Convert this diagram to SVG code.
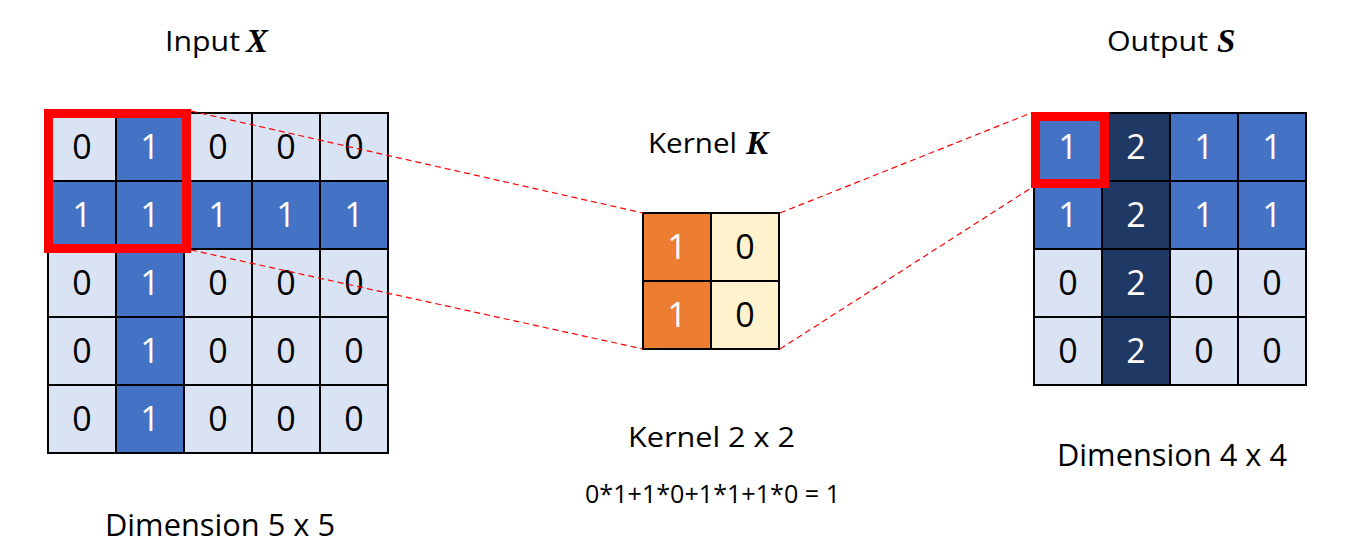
<svg xmlns="http://www.w3.org/2000/svg" width="1348" height="559" viewBox="0 0 1348 559">
<style>
.c{stroke:#000;stroke-width:2}
.l{fill:#DAE3F3}.b{fill:#4472C4}.d{fill:#203864}.o{fill:#ED7D31}.y{fill:#FFF2CC}
.n{font-family:"Open Sans","Noto Sans",sans-serif;font-size:34px;text-anchor:middle}
.k{fill:#000}.w{fill:#fff}
.t{font-family:"Open Sans","Noto Sans",sans-serif;fill:#000}
.m{font-family:"Liberation Serif",serif;font-weight:bold;font-style:italic;fill:#000}
.dash{stroke:#FF0000;stroke-width:1.2;stroke-dasharray:6 4;fill:none}
.red{fill:none;stroke:#FF0000;stroke-width:9}
</style>
<rect width="1348" height="559" fill="#fff"/>
<g id="input">
<g class="c">
<rect class="l" x="48" y="113" width="68" height="68"/><rect class="b" x="116" y="113" width="68" height="68"/><rect class="l" x="184" y="113" width="68" height="68"/><rect class="l" x="252" y="113" width="68" height="68"/><rect class="l" x="320" y="113" width="68" height="68"/>
<rect class="b" x="48" y="181" width="68" height="68"/><rect class="b" x="116" y="181" width="68" height="68"/><rect class="b" x="184" y="181" width="68" height="68"/><rect class="b" x="252" y="181" width="68" height="68"/><rect class="b" x="320" y="181" width="68" height="68"/>
<rect class="l" x="48" y="249" width="68" height="68"/><rect class="b" x="116" y="249" width="68" height="68"/><rect class="l" x="184" y="249" width="68" height="68"/><rect class="l" x="252" y="249" width="68" height="68"/><rect class="l" x="320" y="249" width="68" height="68"/>
<rect class="l" x="48" y="317" width="68" height="68"/><rect class="b" x="116" y="317" width="68" height="68"/><rect class="l" x="184" y="317" width="68" height="68"/><rect class="l" x="252" y="317" width="68" height="68"/><rect class="l" x="320" y="317" width="68" height="68"/>
<rect class="l" x="48" y="385" width="68" height="68"/><rect class="b" x="116" y="385" width="68" height="68"/><rect class="l" x="184" y="385" width="68" height="68"/><rect class="l" x="252" y="385" width="68" height="68"/><rect class="l" x="320" y="385" width="68" height="68"/>
</g>
<g class="n">
<text class="k" x="82" y="159">0</text><text class="w" x="150" y="159">1</text><text class="k" x="218" y="159">0</text><text class="k" x="286" y="159">0</text><text class="k" x="354" y="159">0</text>
<text class="w" x="82" y="227">1</text><text class="w" x="150" y="227">1</text><text class="w" x="218" y="227">1</text><text class="w" x="286" y="227">1</text><text class="w" x="354" y="227">1</text>
<text class="k" x="82" y="295">0</text><text class="w" x="150" y="295">1</text><text class="k" x="218" y="295">0</text><text class="k" x="286" y="295">0</text><text class="k" x="354" y="295">0</text>
<text class="k" x="82" y="363">0</text><text class="w" x="150" y="363">1</text><text class="k" x="218" y="363">0</text><text class="k" x="286" y="363">0</text><text class="k" x="354" y="363">0</text>
<text class="k" x="82" y="431">0</text><text class="w" x="150" y="431">1</text><text class="k" x="218" y="431">0</text><text class="k" x="286" y="431">0</text><text class="k" x="354" y="431">0</text>
</g>
<rect class="red" x="48.5" y="113.5" width="138" height="135"/>
<text class="t" x="165" y="51" font-size="27" textLength="75" lengthAdjust="spacingAndGlyphs">Input</text>
<text class="m" x="246" y="52" font-size="33">X</text>
<text class="t" x="105" y="536" font-size="31" textLength="230" lengthAdjust="spacingAndGlyphs">Dimension 5 x 5</text>
</g>
<g id="kernel">
<g class="c">
<rect class="o" x="643" y="213" width="68" height="68"/><rect class="y" x="711" y="213" width="68" height="68"/>
<rect class="o" x="643" y="281" width="68" height="68"/><rect class="y" x="711" y="281" width="68" height="68"/>
</g>
<g class="n">
<text class="w" x="677" y="259">1</text><text class="k" x="745" y="259">0</text>
<text class="w" x="677" y="327">1</text><text class="k" x="745" y="327">0</text>
</g>
<text class="t" x="648" y="153" font-size="28" textLength="89" lengthAdjust="spacingAndGlyphs">Kernel</text>
<text class="m" x="746" y="154" font-size="33">K</text>
<text class="t" x="628" y="447" font-size="28" textLength="167" lengthAdjust="spacingAndGlyphs">Kernel 2 x 2</text>
<text class="t" x="585" y="503" font-size="25" textLength="255" lengthAdjust="spacingAndGlyphs">0*1+1*0+1*1+1*0 = 1</text>
</g>
<g id="output">
<g class="c">
<rect class="b" x="1034" y="113" width="68" height="68"/><rect class="d" x="1102" y="113" width="68" height="68"/><rect class="b" x="1170" y="113" width="68" height="68"/><rect class="b" x="1238" y="113" width="68" height="68"/>
<rect class="b" x="1034" y="181" width="68" height="68"/><rect class="d" x="1102" y="181" width="68" height="68"/><rect class="b" x="1170" y="181" width="68" height="68"/><rect class="b" x="1238" y="181" width="68" height="68"/>
<rect class="l" x="1034" y="249" width="68" height="68"/><rect class="d" x="1102" y="249" width="68" height="68"/><rect class="l" x="1170" y="249" width="68" height="68"/><rect class="l" x="1238" y="249" width="68" height="68"/>
<rect class="l" x="1034" y="317" width="68" height="68"/><rect class="d" x="1102" y="317" width="68" height="68"/><rect class="l" x="1170" y="317" width="68" height="68"/><rect class="l" x="1238" y="317" width="68" height="68"/>
</g>
<g class="n">
<text class="w" x="1068" y="159">1</text><text class="w" x="1136" y="159">2</text><text class="w" x="1204" y="159">1</text><text class="w" x="1272" y="159">1</text>
<text class="w" x="1068" y="227">1</text><text class="w" x="1136" y="227">2</text><text class="w" x="1204" y="227">1</text><text class="w" x="1272" y="227">1</text>
<text class="k" x="1068" y="295">0</text><text class="w" x="1136" y="295">2</text><text class="k" x="1204" y="295">0</text><text class="k" x="1272" y="295">0</text>
<text class="k" x="1068" y="363">0</text><text class="w" x="1136" y="363">2</text><text class="k" x="1204" y="363">0</text><text class="k" x="1272" y="363">0</text>
</g>
<rect class="red" x="1035.5" y="116.5" width="69" height="67"/>
<text class="t" x="1107" y="51" font-size="28" textLength="101" lengthAdjust="spacingAndGlyphs">Output</text>
<text class="m" x="1217" y="52" font-size="33">S</text>
<text class="t" x="1057" y="466" font-size="31" textLength="230" lengthAdjust="spacingAndGlyphs">Dimension 4 x 4</text>
</g>
<g id="connectors">
<line class="dash" x1="191" y1="111" x2="643" y2="213"/>
<line class="dash" x1="191" y1="250" x2="643" y2="349"/>
<line class="dash" x1="780" y1="213" x2="1031" y2="113"/>
<line class="dash" x1="780" y1="349" x2="1031" y2="188"/>
</g>
</svg>
